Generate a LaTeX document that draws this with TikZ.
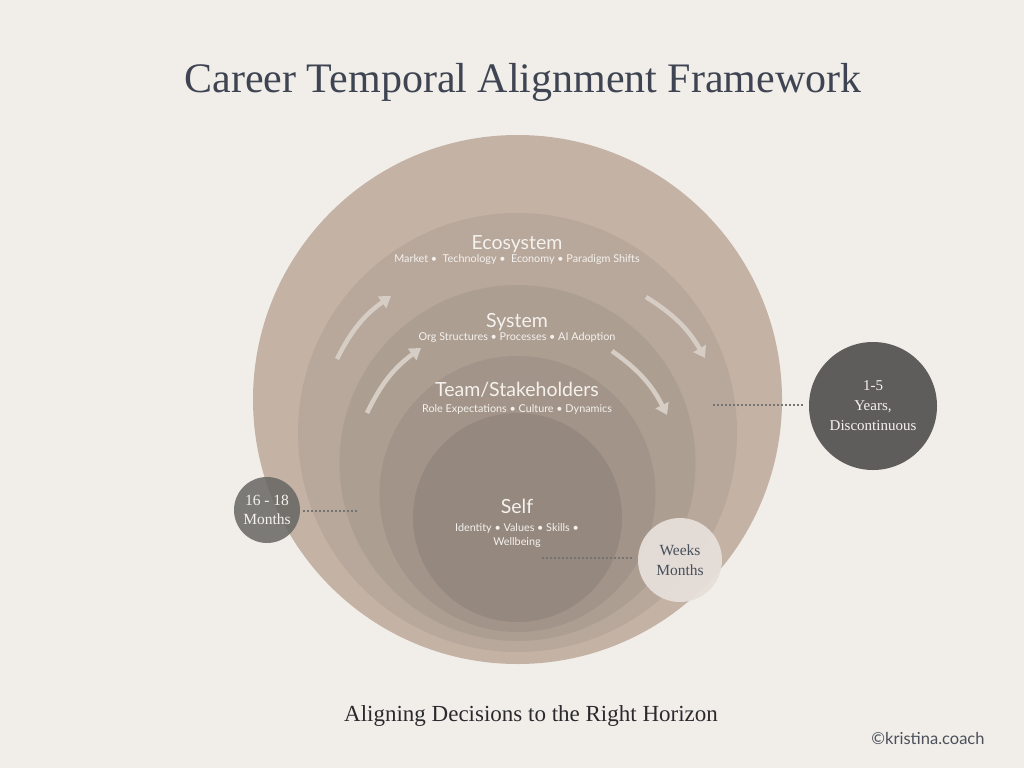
\documentclass[tikz,border=0pt]{standalone}
\usepackage{fontspec}
\setmainfont{Liberation Serif}
\newfontfamily\labelfont{Lato}
\usetikzlibrary{arrows.meta}
\definecolor{paper}{HTML}{F1EEE9}
\definecolor{ringa}{HTML}{C4B2A5}
\definecolor{ringb}{HTML}{B8A79B}
\definecolor{ringc}{HTML}{AD9E92}
\definecolor{ringd}{HTML}{A29488}
\definecolor{ringe}{HTML}{95887F}
\definecolor{slate}{HTML}{3E4452}
\definecolor{flow}{HTML}{D6CDC5}
\definecolor{dots}{HTML}{767472}
\definecolor{soft}{HTML}{F5F2EE}
\definecolor{midgray}{HTML}{676664}
\definecolor{darkgray}{HTML}{5F5D5B}
\definecolor{pale}{HTML}{E6DFDA}
\definecolor{ink}{HTML}{474E5C}
\definecolor{captionink}{HTML}{2A2A2E}
\definecolor{creditink}{HTML}{4A4F5A}
\tikzset {
  >=Stealth,
  ringname/.style={font=\labelfont\fontsize{19.5}{22}\selectfont, text=soft, anchor=base, inner sep=0pt},
  ringitems/.style={font=\labelfont\fontsize{10.8}{14}\selectfont, text=soft, anchor=base, inner sep=0pt},
  horizon/.style={circle, inner sep=0pt, align=center, font=\fontsize{15.5}{19.5}\selectfont},
  flowarrow/.style={flow, line width=4.5pt, -{Triangle[length=11pt,width=14pt]}},
  leader/.style={dots, line width=2pt, dash pattern=on 2pt off 2pt},
}

\begin{document}
\begin{tikzpicture}[x=1pt,y=-1pt]
  \fill[paper] (0,0) rectangle (1024,768);
  % nested rings
  \fill[ringa] (517.5,399.5) circle[radius=264.5pt];
  \fill[ringb] (517.5,432.5) circle[radius=219.5pt];
  \fill[ringc] (517.5,463) circle[radius=178pt];
  \fill[ringd] (517.5,494) circle[radius=138pt];
  \fill[ringe] (517.5,517.5) circle[radius=104.5pt];

  \node[font=\fontsize{42}{46}\selectfont, text=slate, anchor=base] (title) at (523,92)
    {Career Temporal Alignment Framework};

  \node[ringname] (eco) at (517,249) {Ecosystem};
  \node[ringitems] (ecoitems) at (517,262)
    {Market \textbullet\enspace Technology \textbullet\enspace Economy \textbullet{} Paradigm Shifts};
  \node[ringname] (sys) at (517,327) {System};
  \node[ringitems] (sysitems) at (517,340)
    {Org Structures \textbullet{} Processes \textbullet{} AI Adoption};
  \node[ringname] (team) at (517,396) {Team/Stakeholders};
  \node[ringitems] (teamitems) at (517,412)
    {Role Expectations \textbullet{} Culture \textbullet{} Dynamics};
  \node[ringname] (self) at (517,513) {Self};
  \node[ringitems, align=center] (selfitems) at (517,545)
    {Identity \textbullet{} Values \textbullet{} Skills \textbullet\\Wellbeing};

  % flow arrows
  \coordinate (lo1) at (337,359);  \coordinate (lo2) at (391,296);
  \coordinate (li1) at (367,413);  \coordinate (li2) at (421,348);
  \coordinate (ro1) at (646,297);  \coordinate (ro2) at (705,358);
  \coordinate (ri1) at (612,351);  \coordinate (ri2) at (667,415);
  \draw[flowarrow] (lo1) to[bend left=14] (lo2);
  \draw[flowarrow] (li1) to[bend left=14] (li2);
  \draw[flowarrow] (ro1) to[bend left=14] (ro2);
  \draw[flowarrow] (ri1) to[bend left=14] (ri2);

  % time horizons
  \node[horizon, fill=midgray, fill opacity=.85, text opacity=1, text=soft, minimum size=66pt]
    (months) at (267,510) {16 - 18\\Months};
  \node[horizon, fill=darkgray, text=soft, minimum size=128pt, font=\fontsize{15}{20}\selectfont]
    (years) at (873,406) {1-5\\Years,\\Discontinuous};
  \node[horizon, fill=pale, fill opacity=.95, text opacity=1, text=ink, minimum size=84pt]
    (weeks) at (680,560) {Weeks\\Months};

  \coordinate (monthsend) at (357,511);
  \coordinate (yearsend) at (711,405);
  \coordinate (weeksend) at (540,558);
  \draw[leader] ([xshift=3pt]months.east |- monthsend) -- (monthsend);
  \draw[leader] ([xshift=-6pt]years.west |- yearsend) -- (yearsend);
  \draw[leader] ([xshift=-6pt]weeks.west |- weeksend) -- (weeksend);

  \node[font=\fontsize{23}{26}\selectfont, text=captionink, anchor=base] (caption) at (531,721)
    {Aligning Decisions to the Right Horizon};
  \node[font=\labelfont\fontsize{16.5}{20}\selectfont, text=creditink, anchor=base] (credit) at (928,744)
    {©kristina.coach};
\end{tikzpicture}
\end{document}
